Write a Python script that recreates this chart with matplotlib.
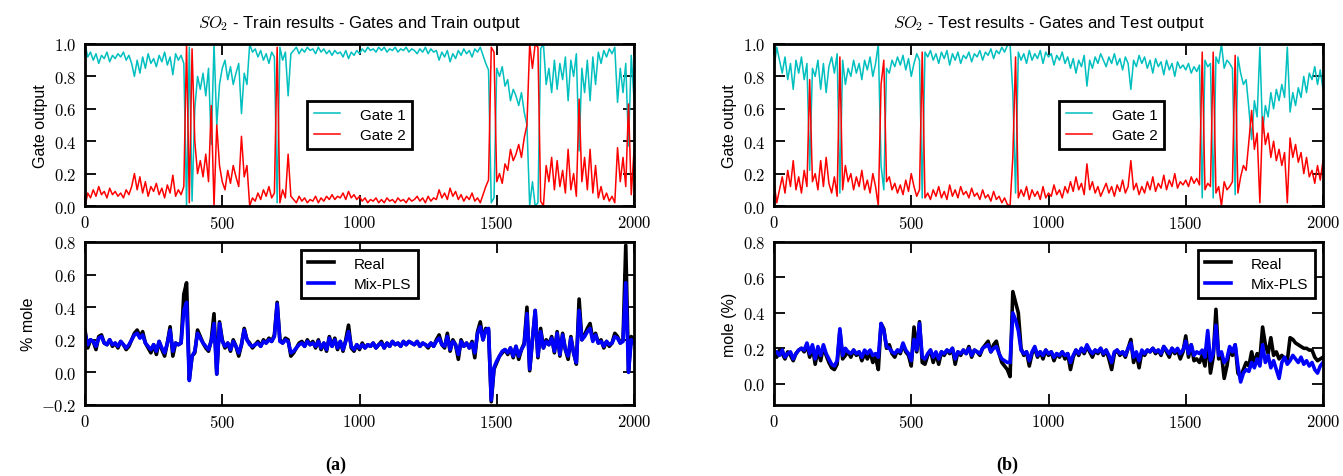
import matplotlib
matplotlib.use("Agg")
import matplotlib.pyplot as plt
from matplotlib.ticker import FuncFormatter, MultipleLocator

# ---------------- data (one value every 10 samples) ----------------
sample_step = 10
n_samples = 2000

gate2_train = [
    0.00, 0.08, 0.05, 0.10, 0.06, 0.12, 0.07, 0.09, 0.05, 0.11,
    0.07, 0.09, 0.06, 0.08, 0.05, 0.10, 0.07, 0.12, 0.20, 0.10,
    0.18, 0.08, 0.15, 0.06, 0.12, 0.09, 0.14, 0.07, 0.11, 0.05,
    0.13, 0.08, 0.19, 0.06, 0.10, 0.07, 0.12, 1.00, 0.02, 0.97,
    0.40, 0.20, 0.28, 0.18, 0.32, 0.15, 0.62, 0.00, 0.50, 0.25,
    0.15, 0.10, 0.22, 0.14, 0.25, 0.18, 0.12, 0.43, 0.18, 0.25,
    0.00, 0.05, 0.03, 0.08, 0.04, 0.10, 0.06, 0.12, 0.05, 0.08,
    0.98, 0.02, 0.10, 0.05, 0.32, 0.06, 0.04, 0.02, 0.06, 0.03,
    0.05, 0.02, 0.04, 0.03, 0.06, 0.02, 0.05, 0.03, 0.06, 0.04,
    0.07, 0.04, 0.06, 0.05, 0.08, 0.04, 0.09, 0.05, 0.07, 0.04,
    0.06, 0.03, 0.05, 0.02, 0.04, 0.03, 0.05, 0.02, 0.04, 0.02,
    0.05, 0.03, 0.04, 0.02, 0.05, 0.03, 0.04, 0.02, 0.05, 0.03,
    0.04, 0.06, 0.03, 0.05, 0.02, 0.06, 0.03, 0.05, 0.04, 0.10,
    0.05, 0.08, 0.04, 0.11, 0.06, 0.09, 0.04, 0.07, 0.03, 0.06,
    0.04, 0.08, 0.03, 0.05, 0.02, 0.07, 0.12, 0.16, 0.98, 0.95,
    0.15, 0.20, 0.14, 0.26, 0.22, 0.35, 0.28, 0.32, 0.38, 0.30,
    0.42, 0.50, 1.00, 0.85, 1.00, 0.98, 0.03, 0.00, 0.25, 0.15,
    0.30, 0.10, 0.28, 0.12, 0.22, 0.08, 0.35, 0.10, 0.20, 0.06,
    0.66, 0.15, 0.30, 0.10, 0.35, 0.08, 0.25, 0.05, 0.12, 0.04,
    0.08, 0.03, 0.06, 0.02, 0.36, 0.15, 0.30, 0.12, 0.63, 0.07,
    0.34,
]

gate1_train = [
    1.00, 0.92, 0.95, 0.90, 0.94, 0.88, 0.93, 0.91, 0.95, 0.89,
    0.93, 0.91, 0.94, 0.92, 0.95, 0.90, 0.93, 0.88, 0.80, 0.90,
    0.82, 0.92, 0.85, 0.94, 0.88, 0.91, 0.86, 0.93, 0.89, 0.95,
    0.87, 0.92, 0.81, 0.94, 0.90, 0.93, 0.88, 0.00, 0.98, 0.03,
    0.60, 0.80, 0.72, 0.82, 0.68, 0.85, 0.38, 1.00, 0.50, 0.75,
    0.85, 0.90, 0.78, 0.86, 0.75, 0.82, 0.88, 0.57, 0.82, 0.75,
    1.00, 0.95, 0.97, 0.92, 0.96, 0.90, 0.94, 0.88, 0.95, 0.92,
    0.02, 0.98, 0.90, 0.95, 0.68, 0.94, 0.96, 0.98, 0.94, 0.97,
    0.95, 0.98, 0.96, 0.97, 0.94, 0.98, 0.95, 0.97, 0.94, 0.96,
    0.93, 0.96, 0.94, 0.95, 0.92, 0.96, 0.91, 0.95, 0.93, 0.96,
    0.94, 0.97, 0.95, 0.98, 0.96, 0.97, 0.95, 0.98, 0.96, 0.98,
    0.95, 0.97, 0.96, 0.98, 0.95, 0.97, 0.96, 0.98, 0.95, 0.97,
    0.96, 0.94, 0.97, 0.95, 0.98, 0.94, 0.97, 0.95, 0.96, 0.90,
    0.95, 0.92, 0.96, 0.89, 0.94, 0.91, 0.96, 0.93, 0.97, 0.94,
    0.96, 0.92, 0.97, 0.95, 0.98, 0.93, 0.88, 0.84, 0.02, 0.05,
    0.85, 0.80, 0.86, 0.74, 0.78, 0.65, 0.72, 0.68, 0.62, 0.70,
    0.58, 0.50, 0.00, 0.15, 0.00, 0.02, 0.97, 1.00, 0.75, 0.85,
    0.70, 0.90, 0.72, 0.88, 0.78, 0.92, 0.65, 0.90, 0.80, 0.94,
    0.34, 0.85, 0.70, 0.90, 0.65, 0.92, 0.75, 0.95, 0.88, 0.96,
    0.92, 0.97, 0.94, 0.98, 0.64, 0.85, 0.70, 0.88, 0.37, 0.93,
    0.66,
]

gate2_test = [
    0.15, 0.02, 0.10, 0.18, 0.08, 0.22, 0.12, 0.28, 0.10, 0.18,
    0.08, 0.22, 0.12, 0.78, 0.15, 0.20, 0.10, 0.28, 0.12, 0.30,
    0.14, 0.08, 0.18, 0.06, 0.92, 0.10, 0.25, 0.15, 0.20, 0.10,
    0.18, 0.12, 0.22, 0.10, 0.16, 0.08, 0.20, 0.12, 0.00, 0.75,
    0.90, 0.15, 0.18, 0.10, 0.14, 0.08, 0.13, 0.07, 0.16, 0.09,
    0.20, 0.12, 0.06, 0.10, 0.95, 0.05, 0.08, 0.04, 0.10, 0.06,
    0.12, 0.05, 0.09, 0.04, 0.13, 0.06, 0.10, 0.05, 0.12, 0.07,
    0.09, 0.05, 0.11, 0.06, 0.08, 0.04, 0.10, 0.05, 0.07, 0.03,
    0.09, 0.04, 0.06, 0.02, 0.05, 0.01, 0.00, 0.30, 0.92, 0.05,
    0.10, 0.06, 0.12, 0.04, 0.10, 0.06, 0.09, 0.04, 0.12, 0.05,
    0.08, 0.06, 0.13, 0.07, 0.10, 0.05, 0.12, 0.08, 0.15, 0.09,
    0.18, 0.10, 0.14, 0.07, 0.26, 0.10, 0.15, 0.08, 0.12, 0.06,
    0.10, 0.14, 0.08, 0.12, 0.06, 0.13, 0.09, 0.16, 0.08, 0.12,
    0.28, 0.10, 0.14, 0.07, 0.12, 0.08, 0.15, 0.10, 0.18, 0.09,
    0.14, 0.11, 0.19, 0.10, 0.16, 0.12, 0.20, 0.11, 0.15, 0.13,
    0.16, 0.12, 0.18, 0.14, 0.17, 0.13, 0.95, 0.10, 0.14, 0.12,
    0.95, 0.08, 0.12, 0.00, 0.15, 0.10, 0.12, 0.15, 0.93, 0.08,
    0.18, 0.25, 0.22, 0.40, 0.59, 0.35, 0.45, 0.02, 0.55, 0.38,
    0.45, 0.30, 0.40, 0.28, 0.35, 0.25, 0.33, 0.02, 0.42, 0.30,
    0.38, 0.27, 0.33, 0.20, 0.30, 0.18, 0.22, 0.14, 0.25, 0.16,
    0.28,
]

gate1_test = [
    0.85, 0.98, 0.90, 0.82, 0.92, 0.78, 0.88, 0.72, 0.90, 0.82,
    0.92, 0.78, 0.88, 0.22, 0.85, 0.80, 0.90, 0.72, 0.88, 0.70,
    0.86, 0.92, 0.82, 0.94, 0.08, 0.90, 0.75, 0.85, 0.80, 0.90,
    0.82, 0.88, 0.78, 0.90, 0.84, 0.92, 0.80, 0.88, 1.00, 0.25,
    0.10, 0.85, 0.82, 0.90, 0.86, 0.92, 0.87, 0.93, 0.84, 0.91,
    0.80, 0.88, 0.94, 0.90, 0.05, 0.95, 0.92, 0.96, 0.90, 0.94,
    0.88, 0.95, 0.91, 0.96, 0.87, 0.94, 0.90, 0.95, 0.88, 0.93,
    0.91, 0.95, 0.89, 0.94, 0.92, 0.96, 0.90, 0.95, 0.93, 0.97,
    0.91, 0.96, 0.94, 0.98, 0.95, 0.99, 1.00, 0.70, 0.08, 0.95,
    0.90, 0.94, 0.88, 0.96, 0.90, 0.94, 0.91, 0.96, 0.88, 0.95,
    0.92, 0.94, 0.87, 0.93, 0.90, 0.95, 0.88, 0.92, 0.85, 0.91,
    0.82, 0.90, 0.86, 0.93, 0.74, 0.90, 0.85, 0.92, 0.88, 0.94,
    0.90, 0.86, 0.92, 0.88, 0.94, 0.87, 0.91, 0.84, 0.92, 0.88,
    0.72, 0.90, 0.86, 0.93, 0.88, 0.92, 0.85, 0.90, 0.82, 0.91,
    0.86, 0.89, 0.81, 0.90, 0.84, 0.88, 0.80, 0.89, 0.85, 0.87,
    0.84, 0.88, 0.82, 0.86, 0.83, 0.87, 0.05, 0.90, 0.86, 0.88,
    0.05, 0.92, 0.88, 1.00, 0.85, 0.90, 0.88, 0.85, 0.07, 0.92,
    0.82, 0.75, 0.78, 0.60, 0.41, 0.65, 0.55, 0.98, 0.45, 0.62,
    0.55, 0.70, 0.60, 0.72, 0.65, 0.75, 0.67, 0.98, 0.58, 0.70,
    0.62, 0.73, 0.67, 0.80, 0.70, 0.82, 0.78, 0.86, 0.75, 0.84,
    0.72,
]

real_train = [
    0.26, 0.15, 0.20, 0.19, 0.14, 0.22, 0.23, 0.18, 0.17, 0.20,
    0.16, 0.18, 0.15, 0.19, 0.17, 0.14, 0.16, 0.20, 0.24, 0.26,
    0.22, 0.25, 0.18, 0.15, 0.12, 0.17, 0.11, 0.19, 0.14, 0.10,
    0.18, 0.28, 0.10, 0.18, 0.17, 0.18, 0.48, 0.55, -0.04, 0.10,
    0.12, 0.26, 0.22, 0.18, 0.15, 0.13, 0.20, 0.36, -0.01, 0.31,
    0.20, 0.15, 0.18, 0.13, 0.20, 0.16, 0.10, 0.17, 0.27, 0.20,
    0.18, 0.15, 0.17, 0.19, 0.16, 0.20, 0.18, 0.21, 0.19, 0.23,
    0.43, 0.20, 0.18, 0.21, 0.20, 0.10, 0.12, 0.15, 0.18, 0.19,
    0.16, 0.20, 0.17, 0.19, 0.15, 0.20, 0.14, 0.18, 0.13, 0.22,
    0.16, 0.21, 0.14, 0.19, 0.13, 0.20, 0.29, 0.15, 0.13, 0.17,
    0.14, 0.18, 0.15, 0.17, 0.16, 0.18, 0.15, 0.17, 0.19, 0.15,
    0.18, 0.16, 0.19, 0.17, 0.18, 0.16, 0.19, 0.17, 0.19, 0.18,
    0.17, 0.19, 0.16, 0.18, 0.17, 0.15, 0.18, 0.16, 0.20, 0.23,
    0.17, 0.15, 0.24, 0.13, 0.20, 0.17, 0.08, 0.20, 0.16, 0.18,
    0.15, 0.19, 0.09, 0.25, 0.31, 0.20, 0.27, 0.26, -0.18, 0.02,
    0.06, 0.10, 0.12, 0.14, 0.11, 0.15, 0.09, 0.16, 0.08, 0.14,
    0.18, 0.40, 0.01, 0.20, 0.38, 0.09, 0.27, 0.15, 0.20, 0.17,
    0.22, 0.12, 0.25, 0.10, 0.24, 0.14, 0.08, 0.22, 0.12, 0.05,
    0.45, 0.20, 0.23, 0.27, 0.30, 0.20, 0.24, 0.18, 0.20, 0.15,
    0.19, 0.16, 0.18, 0.24, 0.22, 0.18, 0.20, 0.78, 0.01, 0.22,
    0.20,
]

mixpls_train = [
    0.24, 0.17, 0.20, 0.19, 0.16, 0.21, 0.22, 0.18, 0.17, 0.20,
    0.17, 0.18, 0.16, 0.19, 0.17, 0.15, 0.17, 0.20, 0.23, 0.24,
    0.21, 0.23, 0.18, 0.16, 0.14, 0.17, 0.13, 0.19, 0.15, 0.12,
    0.18, 0.26, 0.13, 0.18, 0.17, 0.18, 0.38, 0.43, -0.05, 0.10,
    0.13, 0.24, 0.21, 0.18, 0.16, 0.14, 0.19, 0.30, -0.01, 0.30,
    0.19, 0.16, 0.18, 0.14, 0.19, 0.16, 0.12, 0.17, 0.26, 0.20,
    0.17, 0.16, 0.17, 0.18, 0.16, 0.19, 0.18, 0.20, 0.19, 0.22,
    0.42, 0.19, 0.18, 0.20, 0.19, 0.12, 0.13, 0.15, 0.17, 0.18,
    0.16, 0.19, 0.17, 0.18, 0.16, 0.19, 0.15, 0.18, 0.14, 0.21,
    0.16, 0.20, 0.15, 0.19, 0.14, 0.19, 0.25, 0.16, 0.14, 0.17,
    0.15, 0.17, 0.15, 0.17, 0.16, 0.18, 0.15, 0.17, 0.18, 0.15,
    0.18, 0.16, 0.19, 0.17, 0.18, 0.16, 0.19, 0.17, 0.19, 0.18,
    0.17, 0.19, 0.16, 0.18, 0.17, 0.16, 0.18, 0.16, 0.19, 0.21,
    0.17, 0.16, 0.22, 0.14, 0.19, 0.17, 0.11, 0.19, 0.16, 0.18,
    0.15, 0.18, 0.12, 0.24, 0.28, 0.20, 0.26, 0.27, -0.17, 0.03,
    0.07, 0.10, 0.13, 0.14, 0.12, 0.15, 0.10, 0.16, 0.10, 0.14,
    0.17, 0.36, 0.02, 0.20, 0.38, 0.10, 0.25, 0.15, 0.19, 0.17,
    0.21, 0.13, 0.24, 0.11, 0.23, 0.14, 0.10, 0.21, 0.12, 0.06,
    0.38, 0.20, 0.22, 0.25, 0.27, 0.19, 0.23, 0.18, 0.19, 0.16,
    0.19, 0.17, 0.18, 0.22, 0.21, 0.18, 0.19, 0.55, 0.00, 0.20,
    0.18,
]

real_test = [
    0.19, 0.15, 0.19, 0.17, 0.14, 0.18, 0.16, 0.13, 0.17, 0.19,
    0.20, 0.18, 0.22, 0.15, 0.21, 0.11, 0.19, 0.13, 0.21, 0.16,
    0.12, 0.09, 0.08, 0.11, 0.30, 0.14, 0.16, 0.18, 0.15, 0.19,
    0.16, 0.18, 0.13, 0.17, 0.14, 0.18, 0.12, 0.15, 0.08, 0.34,
    0.31, 0.20, 0.22, 0.17, 0.15, 0.19, 0.17, 0.22, 0.18, 0.16,
    0.10, 0.32, 0.18, 0.35, 0.12, 0.11, 0.16, 0.19, 0.12, 0.17,
    0.11, 0.18, 0.16, 0.19, 0.17, 0.20, 0.11, 0.18, 0.16, 0.19,
    0.17, 0.21, 0.15, 0.19, 0.18, 0.16, 0.20, 0.22, 0.24, 0.18,
    0.22, 0.24, 0.17, 0.12, 0.10, 0.08, 0.04, 0.52, 0.46, 0.40,
    0.20, 0.16, 0.18, 0.10, 0.17, 0.20, 0.15, 0.18, 0.14, 0.19,
    0.16, 0.18, 0.13, 0.17, 0.15, 0.18, 0.14, 0.17, 0.08, 0.15,
    0.19, 0.16, 0.20, 0.17, 0.21, 0.18, 0.15, 0.19, 0.17, 0.20,
    0.16, 0.19, 0.14, 0.08, 0.17, 0.19, 0.16, 0.18, 0.15, 0.20,
    0.25, 0.12, 0.17, 0.09, 0.18, 0.16, 0.19, 0.18, 0.20, 0.17,
    0.19, 0.16, 0.21, 0.18, 0.15, 0.20, 0.17, 0.19, 0.14, 0.18,
    0.27, 0.15, 0.22, 0.13, 0.14, 0.12, 0.16, 0.10, 0.26, 0.06,
    0.15, 0.42, 0.14, 0.17, 0.03, 0.10, 0.20, 0.16, 0.22, 0.06,
    0.04, 0.08, 0.12, 0.10, 0.18, 0.11, 0.17, 0.14, 0.32, 0.22,
    0.17, 0.26, 0.16, 0.18, 0.14, 0.16, 0.14, 0.13, 0.26, 0.25,
    0.23, 0.22, 0.21, 0.20, 0.20, 0.19, 0.19, 0.15, 0.13, 0.14,
    0.15,
]

mixpls_test = [
    0.17, 0.18, 0.16, 0.19, 0.15, 0.17, 0.18, 0.14, 0.17, 0.19,
    0.20, 0.19, 0.23, 0.17, 0.22, 0.14, 0.21, 0.16, 0.22, 0.17,
    0.14, 0.11, 0.10, 0.13, 0.31, 0.16, 0.20, 0.18, 0.17, 0.19,
    0.17, 0.18, 0.15, 0.19, 0.17, 0.19, 0.16, 0.17, 0.15, 0.34,
    0.30, 0.21, 0.20, 0.18, 0.17, 0.19, 0.18, 0.23, 0.19, 0.17,
    0.13, 0.25, 0.19, 0.34, 0.15, 0.14, 0.17, 0.19, 0.15, 0.18,
    0.14, 0.18, 0.17, 0.19, 0.18, 0.20, 0.14, 0.18, 0.17, 0.19,
    0.17, 0.20, 0.16, 0.19, 0.18, 0.17, 0.20, 0.21, 0.22, 0.18,
    0.20, 0.21, 0.17, 0.14, 0.13, 0.12, 0.12, 0.40, 0.36, 0.30,
    0.19, 0.17, 0.18, 0.13, 0.18, 0.21, 0.16, 0.18, 0.16, 0.19,
    0.17, 0.18, 0.15, 0.17, 0.16, 0.18, 0.16, 0.17, 0.12, 0.16,
    0.19, 0.17, 0.20, 0.18, 0.22, 0.19, 0.17, 0.19, 0.18, 0.20,
    0.17, 0.19, 0.16, 0.12, 0.18, 0.19, 0.17, 0.18, 0.16, 0.20,
    0.23, 0.15, 0.18, 0.13, 0.19, 0.17, 0.19, 0.18, 0.20, 0.18,
    0.19, 0.17, 0.21, 0.19, 0.17, 0.20, 0.18, 0.20, 0.17, 0.19,
    0.24, 0.17, 0.22, 0.16, 0.18, 0.17, 0.19, 0.15, 0.30, 0.13,
    0.17, 0.33, 0.16, 0.18, 0.12, 0.14, 0.21, 0.18, 0.22, 0.10,
    0.01, 0.06, 0.08, 0.07, 0.12, 0.09, 0.14, 0.10, 0.22, 0.12,
    0.16, 0.09, 0.13, 0.08, 0.03, 0.12, 0.15, 0.11, 0.13, 0.16,
    0.14, 0.12, 0.15, 0.11, 0.13, 0.10, 0.12, 0.08, 0.06, 0.10,
    0.12,
]

gate_labels = ["Gate 1", "Gate 2"]
output_labels = ["Real", "Mix-PLS"]
titles = [r"$SO_2$ - Train results - Gates and Train output",
          r"$SO_2$ - Test results - Gates and Test output"]
ylabels_bottom = ["% mole", "mole (%)"]
captions = ["(a)", "(b)"]

x_index = list(range(0, n_samples + 1, sample_step))

# ---------------- style ----------------
plt.rcParams["mathtext.fontset"] = "cm"
plt.rcParams["font.family"] = ["Liberation Sans", "DejaVu Sans"]

W, H = 1343, 477
fig = plt.figure(figsize=(W / 100, H / 100), dpi=100)


def px_axes(x0, x1, y0, y1):
    return fig.add_axes([x0 / W, 1 - y1 / H, (x1 - x0) / W, (y1 - y0) / H])


def style_axes(ax):
    for s in ax.spines.values():
        s.set_linewidth(2.0)
    ax.tick_params(direction="in", top=True, right=True, length=8, width=1.3,
                   labelsize=12, pad=6)
    ax.xaxis.set_major_formatter(FuncFormatter(lambda v, p: r"$%d$" % int(round(v))))
    ax.yaxis.set_major_formatter(FuncFormatter(lambda v, p: r"$%.1f$" % v))
    ax.set_xlim(0, n_samples)
    ax.xaxis.set_major_locator(MultipleLocator(500))


def legend(ax, **kw):
    leg = ax.legend(fontsize=11, handlelength=1.7, handletextpad=1.3,
                    labelspacing=0.45, borderpad=0.45, fancybox=False,
                    framealpha=1, edgecolor="k", **kw)
    leg.get_frame().set_linewidth(2.0)
    return leg


xs_left = (85, 634)
xs_right = (774, 1323)
ys_top = (45, 207)
ys_bot = (243, 406)

panels = [
    (xs_left, gate1_train, gate2_train, real_train, mixpls_train, (-0.2, 0.8),
     dict(loc="center", bbox_to_anchor=(0.5, 0.5)), dict(loc="upper center")),
    (xs_right, gate1_test, gate2_test, real_test, mixpls_test, (-0.12, 0.8),
     dict(loc="center", bbox_to_anchor=(0.615, 0.5)), dict(loc="upper right")),
]

for i, (xs, g1, g2, real, mix, ylim_b, leg_top, leg_bot) in enumerate(panels):
    ax_t = px_axes(xs[0], xs[1], ys_top[0], ys_top[1])
    ax_t.plot(x_index, g1, color="c", lw=1.1, label=gate_labels[0])
    ax_t.plot(x_index, g2, color="r", lw=1.1, label=gate_labels[1])
    style_axes(ax_t)
    ax_t.set_ylim(0, 1)
    ax_t.yaxis.set_major_locator(MultipleLocator(0.2))
    ax_t.set_ylabel("Gate output", fontsize=11.5)
    ax_t.set_title(titles[i], fontsize=12, pad=12)
    legend(ax_t, **leg_top)

    ax_b = px_axes(xs[0], xs[1], ys_bot[0], ys_bot[1])
    ax_b.plot(x_index, real, color="k", lw=2.6, label=output_labels[0])
    ax_b.plot(x_index, mix, color="b", lw=2.6, label=output_labels[1])
    style_axes(ax_b)
    ax_b.set_ylim(*ylim_b)
    ax_b.yaxis.set_major_locator(MultipleLocator(0.2))
    ax_b.set_ylabel(ylabels_bottom[i], fontsize=11.5)
    legend(ax_b, **leg_bot)

    fig.text(0.25 + 0.5 * i, 1 - 465 / H, captions[i], ha="center", va="center",
             fontsize=13, fontweight="bold", family="Liberation Serif")

fig.savefig("out.png", dpi=100)
